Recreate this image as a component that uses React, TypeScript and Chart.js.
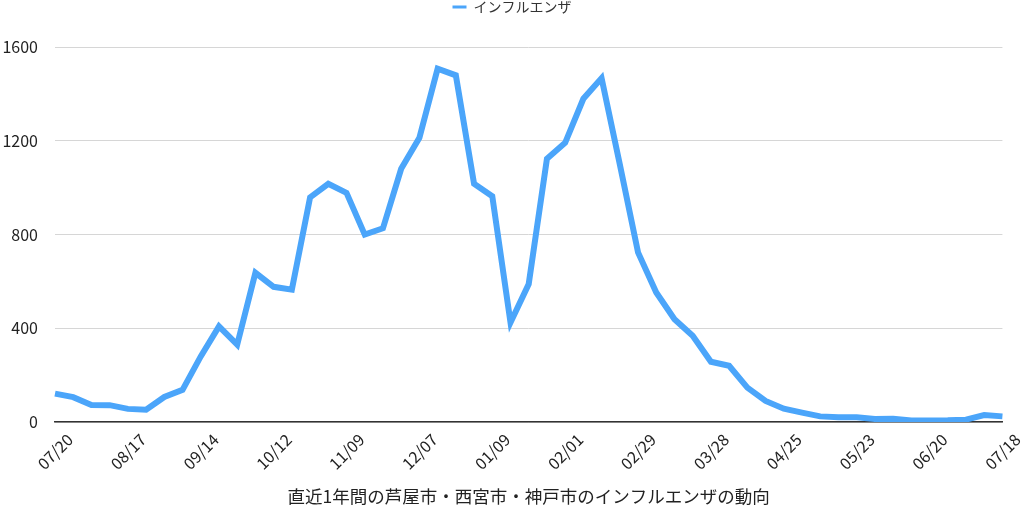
import React, { useEffect, useRef } from "react";
import { Chart, registerables } from "chart.js";

Chart.register(...registerables);

const categories: string[] = [
  "07/20", "07/27", "08/03", "08/10", "08/17", "08/24", "08/31", "09/07",
  "09/14", "09/21", "09/28", "10/05", "10/12", "10/19", "10/26", "11/02",
  "11/09", "11/16", "11/23", "11/30", "12/07", "12/14", "12/21", "12/28",
  "01/09", "01/11", "01/18", "01/25", "02/01", "02/08", "02/15", "02/22",
  "02/29", "03/07", "03/14", "03/21", "03/28", "04/04", "04/11", "04/18",
  "04/25", "05/02", "05/09", "05/16", "05/23", "05/30", "06/06", "06/13",
  "06/20", "06/27", "07/04", "07/11", "07/18",
];

const influenza: number[] = [
  121, 106, 73, 72, 56, 52, 107, 137,
  280, 408, 330, 637, 577, 565, 959, 1017,
  978, 800, 827, 1081, 1213, 1508, 1480, 1017,
  964, 425, 589, 1124, 1192, 1380, 1468, 1100,
  724, 553, 439, 368, 257, 240, 147, 90,
  57, 40, 24, 20, 20, 13, 14, 6,
  6, 7, 10, 30, 24,
];

const yTicks: number[] = [0, 400, 800, 1200, 1600];

const seriesName = "インフルエンザ";
const titleText = "直近1年間の芦屋市・西宮市・神戸市のインフルエンザの動向";

const FONT = "'Noto Sans CJK JP', 'Noto Sans', sans-serif";
const LINE_COLOR = "#4ba5fa";

export default function App() {
  const ref = useRef<HTMLCanvasElement | null>(null);

  useEffect(() => {
    if (!ref.current) return;
    Chart.defaults.font.family = FONT;
    const chart = new Chart(ref.current, {
      type: "line",
      data: {
        labels: categories,
        datasets: [
          {
            label: seriesName,
            data: influenza,
            borderColor: LINE_COLOR,
            backgroundColor: LINE_COLOR,
            borderWidth: 6,
            pointRadius: 0,
            pointHoverRadius: 0,
            tension: 0,
            fill: false,
          },
        ],
      },
      options: {
        animation: false,
        responsive: false,
        maintainAspectRatio: false,
        layout: { padding: { left: 0, right: 0, top: 0, bottom: 0 } },
        plugins: {
          legend: {
            position: "top",
            labels: {
              boxWidth: 14,
              boxHeight: 3,
              padding: 0,
              color: "#333",
              font: { size: 14, family: FONT },
              generateLabels: (c: any) => {
                const items = Chart.defaults.plugins.legend.labels.generateLabels(c);
                return items.map((it: any) => ({
                  ...it,
                  lineWidth: 0,
                  fillStyle: LINE_COLOR,
                  strokeStyle: LINE_COLOR,
                }));
              },
            },
          },
          subtitle: {
            display: true,
            text: " ",
            position: "top",
            weight: 500,
            font: { size: 1 },
            padding: { top: 22, bottom: 0 },
          } as any,
          title: {
            display: true,
            text: titleText,
            position: "bottom",
            fullSize: false,
            color: "#222",
            font: { size: 17.5, weight: "normal", family: FONT },
            padding: { top: 0, bottom: 6 },
          },
          tooltip: { enabled: false },
        },
        scales: {
          x: {
            grid: { display: false, drawTicks: false },
            border: { display: true, color: "#333", width: 1.5 },
            afterFit: (scale: any) => {
              scale.height = 64;
            },
            ticks: {
              autoSkip: false,
              minRotation: 45,
              maxRotation: 45,
              padding: 8,
              labelOffset: 15,
              color: "#222",
              font: { size: 16, family: FONT },
              callback: (_v: any, i: number) => (i % 4 === 0 ? categories[i] : ""),
            },
          },
          y: {
            min: 0,
            max: 1600,
            afterFit: (scale: any) => {
              scale.width = 55;
            },
            afterBuildTicks: (scale: any) => {
              scale.ticks = yTicks.map((v) => ({ value: v }));
            },
            grid: { color: "#d6d6d6", lineWidth: 1, drawTicks: false },
            border: { display: false },
            ticks: {
              padding: 17,
              color: "#222",
              font: { size: 16, family: FONT },
              callback: (v: any) => String(v),
            },
          },
          yRightSpace: {
            type: "linear",
            position: "right",
            display: true,
            afterFit: (scale: any) => {
              scale.width = 21;
            },
            grid: { display: false, drawTicks: false },
            border: { display: false },
            ticks: { display: false },
          } as any,
        },
      },
    });
    return () => chart.destroy();
  }, []);

  return (
    <div style={{ position: "fixed", left: 0, top: 0, width: 1024, height: 513, background: "#fff" }}>
      <canvas ref={ref} width={1024} height={513} style={{ display: "block" }} />
    </div>
  );
}
